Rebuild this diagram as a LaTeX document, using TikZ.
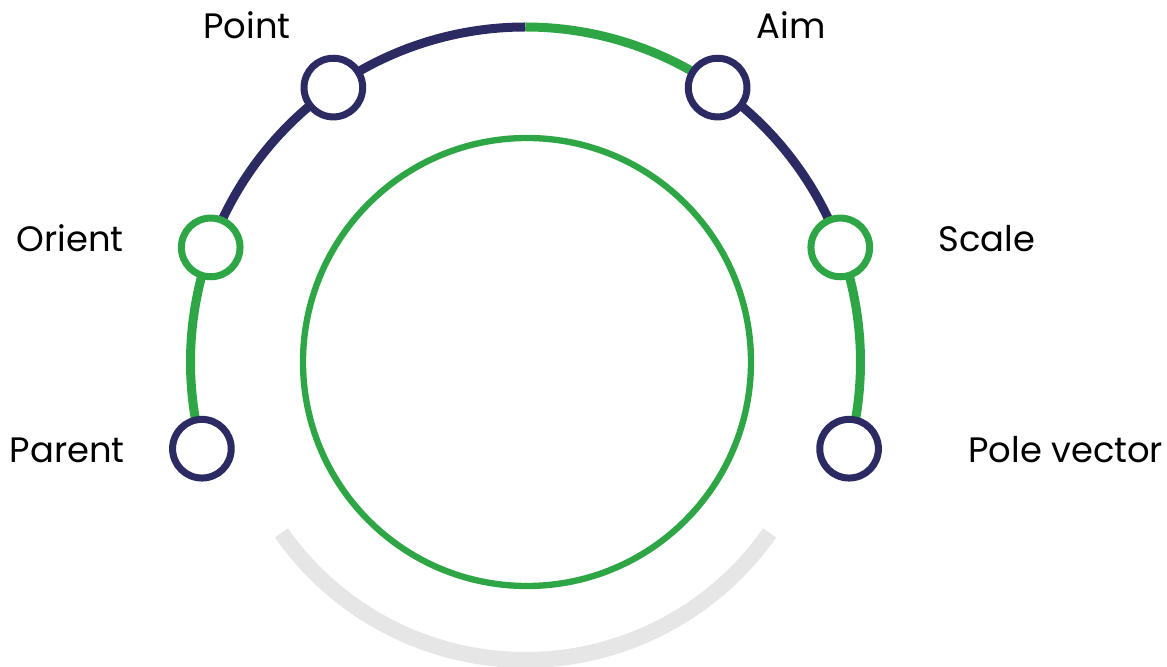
\documentclass[tikz,border=0pt]{standalone}
\usepackage{fontspec}
\setmainfont{Poppins}
\usepackage{xcolor}
\definecolor{ringNavy}  {HTML}{2B2A63}
\definecolor{ringGreen} {HTML}{2EA645}
\definecolor{ringGray}  {HTML}{E6E6E6}
\usetikzlibrary{positioning, calc}
\tikzset{
    jointnode/.style={circle, draw, line width=5.25pt, minimum size=44pt,
                      inner sep=0pt, fill=white},
    jnavy/.style={jointnode, draw=ringNavy},
    jgreen/.style={jointnode, draw=ringGreen},
    navyarc/.style={line width=6.75pt, ringNavy},
    greenarc/.style={line width=6.75pt, ringGreen},
    lbl/.style={inner sep=0pt, font=\fontsize{26.5}{31}\selectfont},
}

\begin{document}
\begin{tikzpicture}[x=0.75pt, y=0.75pt]
\useasboundingbox (-525.5,-305) rectangle (641.5,362);
\coordinate (c) at (0,0);

% --- bottom gray arc ---
\draw[line width=12pt, ringGray] (c) ++(-145:298)
    arc[start angle=-145, end angle=-35, radius=298];

% --- inner circle ---
\draw[line width=4.75pt, ringGreen] (1.5,0) circle[radius=224];

% --- outer ring joints ---
\coordinate (parent-c) at (195:335);
\coordinate (orient-c) at (160:335);
\coordinate (point-c)  at (125:335);
\coordinate (top)      at (90:335);
\coordinate (aim-c)    at (55:335);
\coordinate (scale-c)  at (20:335);
\coordinate (pole-c)   at (-15:335);

\draw[greenarc] (parent-c) arc[start angle=195, end angle=160, radius=335];
\draw[navyarc]  (orient-c) arc[start angle=160, end angle=90, radius=335];
\draw[greenarc] (top) arc[start angle=90, end angle=55, radius=335];
\draw[navyarc]  (aim-c) arc[start angle=55, end angle=20, radius=335];
\draw[greenarc] (scale-c) arc[start angle=20, end angle=-15, radius=335];

\node[jnavy]  (parent) at (parent-c) {};
\node[jgreen] (orient) at (orient-c) {};
\node[jnavy]  (point)  at (point-c) {};
\node[jnavy]  (aim)    at (aim-c) {};
\node[jgreen] (scale)  at (scale-c) {};
\node[jnavy]  (pole)   at (pole-c) {};

% --- labels ---
\node[lbl, anchor=base]      (point-l)  at (-278.5,323) {Point};
\node[lbl, anchor=base]      (aim-l)    at (265.5,323) {Aim};
\node[lbl, anchor=base east] (orient-l) at (-401.5,110) {Orient};
\node[lbl, anchor=base west] (scale-l)  at (412.5,110) {Scale};
\node[lbl, anchor=base east] (parent-l) at (-400.5,-100) {Parent};
\node[lbl, anchor=base west] (pole-l)   at (442.5,-100) {Pole vector};
\end{tikzpicture}
\end{document}
